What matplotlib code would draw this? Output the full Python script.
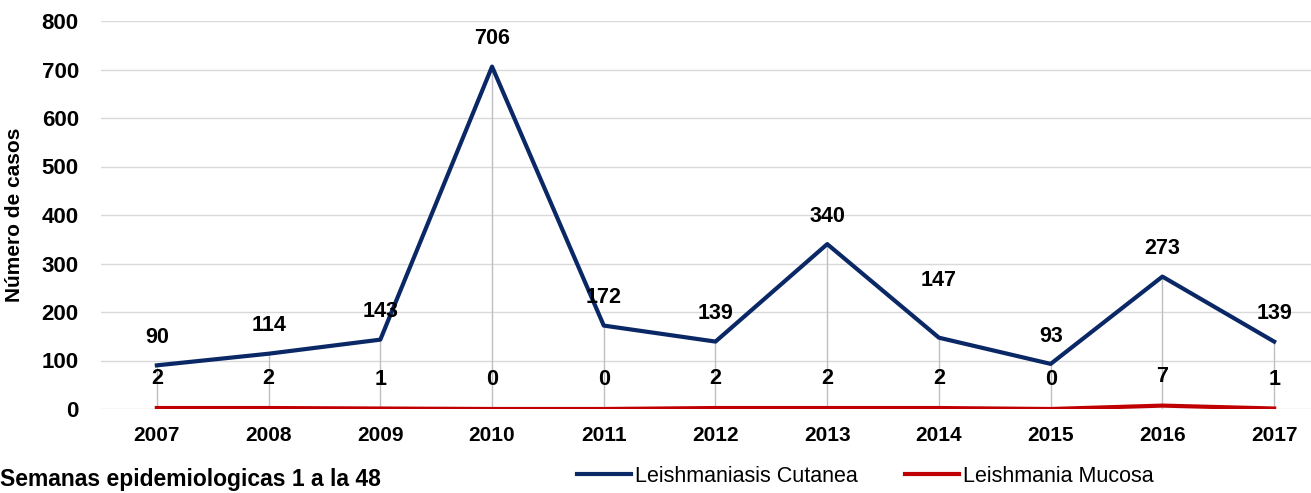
import numpy as np
import matplotlib.pyplot as plt

years = ['2007', '2008', '2009', '2010', '2011', '2012', '2013', '2014', '2015', '2016', '2017']
cutanea = [90, 114, 143, 706, 172, 139, 340, 147, 93, 273, 139]
mucosa = [2, 2, 1, 0, 0, 2, 2, 2, 0, 7, 1]

blue = '#0b2866'
red = '#c00000'
grid_col = '#d9d9d9'

plt.rcParams['font.family'] = ['Liberation Sans', 'DejaVu Sans']

fig = plt.figure(figsize=(13.11, 4.93), dpi=100)
ax = fig.add_axes([101 / 1311, 1 - 409 / 493, 1 - 101 / 1311, (409 - 21) / 493])

x = np.arange(len(years))

# drop lines from the highest point to the axis
top = np.maximum(cutanea, mucosa)
ax.vlines(x, 0, top, color='#bfbfbf', lw=1, zorder=1)

ax.plot(x, cutanea, color=blue, lw=3, label='Leishmaniasis Cutanea', zorder=3)
ax.plot(x, mucosa, color=red, lw=3, label='Leishmania Mucosa', zorder=3)

for i, v in enumerate(cutanea):
    off = 41 if years[i] == '2014' else 20
    ax.annotate(str(v), (x[i], v), xytext=(0, off), textcoords='offset points',
                ha='center', va='center', fontsize=15.5, fontweight='bold')
for i, v in enumerate(mucosa):
    ax.annotate(str(v), (x[i], v), xytext=(0, 21), textcoords='offset points',
                ha='center', va='center', fontsize=15.5, fontweight='bold')

ax.set_ylim(0, 800)
ax.set_yticks(range(0, 801, 100))
ax.set_xlim(-0.5, 10.33)
ax.set_xticks(x)
ax.set_xticklabels(years)
ax.grid(axis='y', color=grid_col, lw=1)
ax.set_axisbelow(True)
for s in ax.spines.values():
    s.set_visible(False)
ax.tick_params(axis='y', length=0, labelsize=16, pad=16)
ax.tick_params(axis='x', length=0, labelsize=15, pad=12)
for lab in ax.get_xticklabels() + ax.get_yticklabels():
    lab.set_fontweight('bold')
ax.set_ylabel('Número de casos', fontsize=15, fontweight='bold')
ax.yaxis.set_label_coords(-0.064, 0.5)

fig.legend(loc='center', bbox_to_anchor=(0.66, 1 - 476 / 493), ncol=2, frameon=False,
           fontsize=15.5, handlelength=2.5, handletextpad=0.2, columnspacing=2.2)

fig.text(0.0, 2 / 493, 'Semanas epidemiologicas 1 a la 48', fontsize=16.5,
         fontweight='bold', va='bottom', ha='left')

fig.savefig('out.png', dpi=100)
